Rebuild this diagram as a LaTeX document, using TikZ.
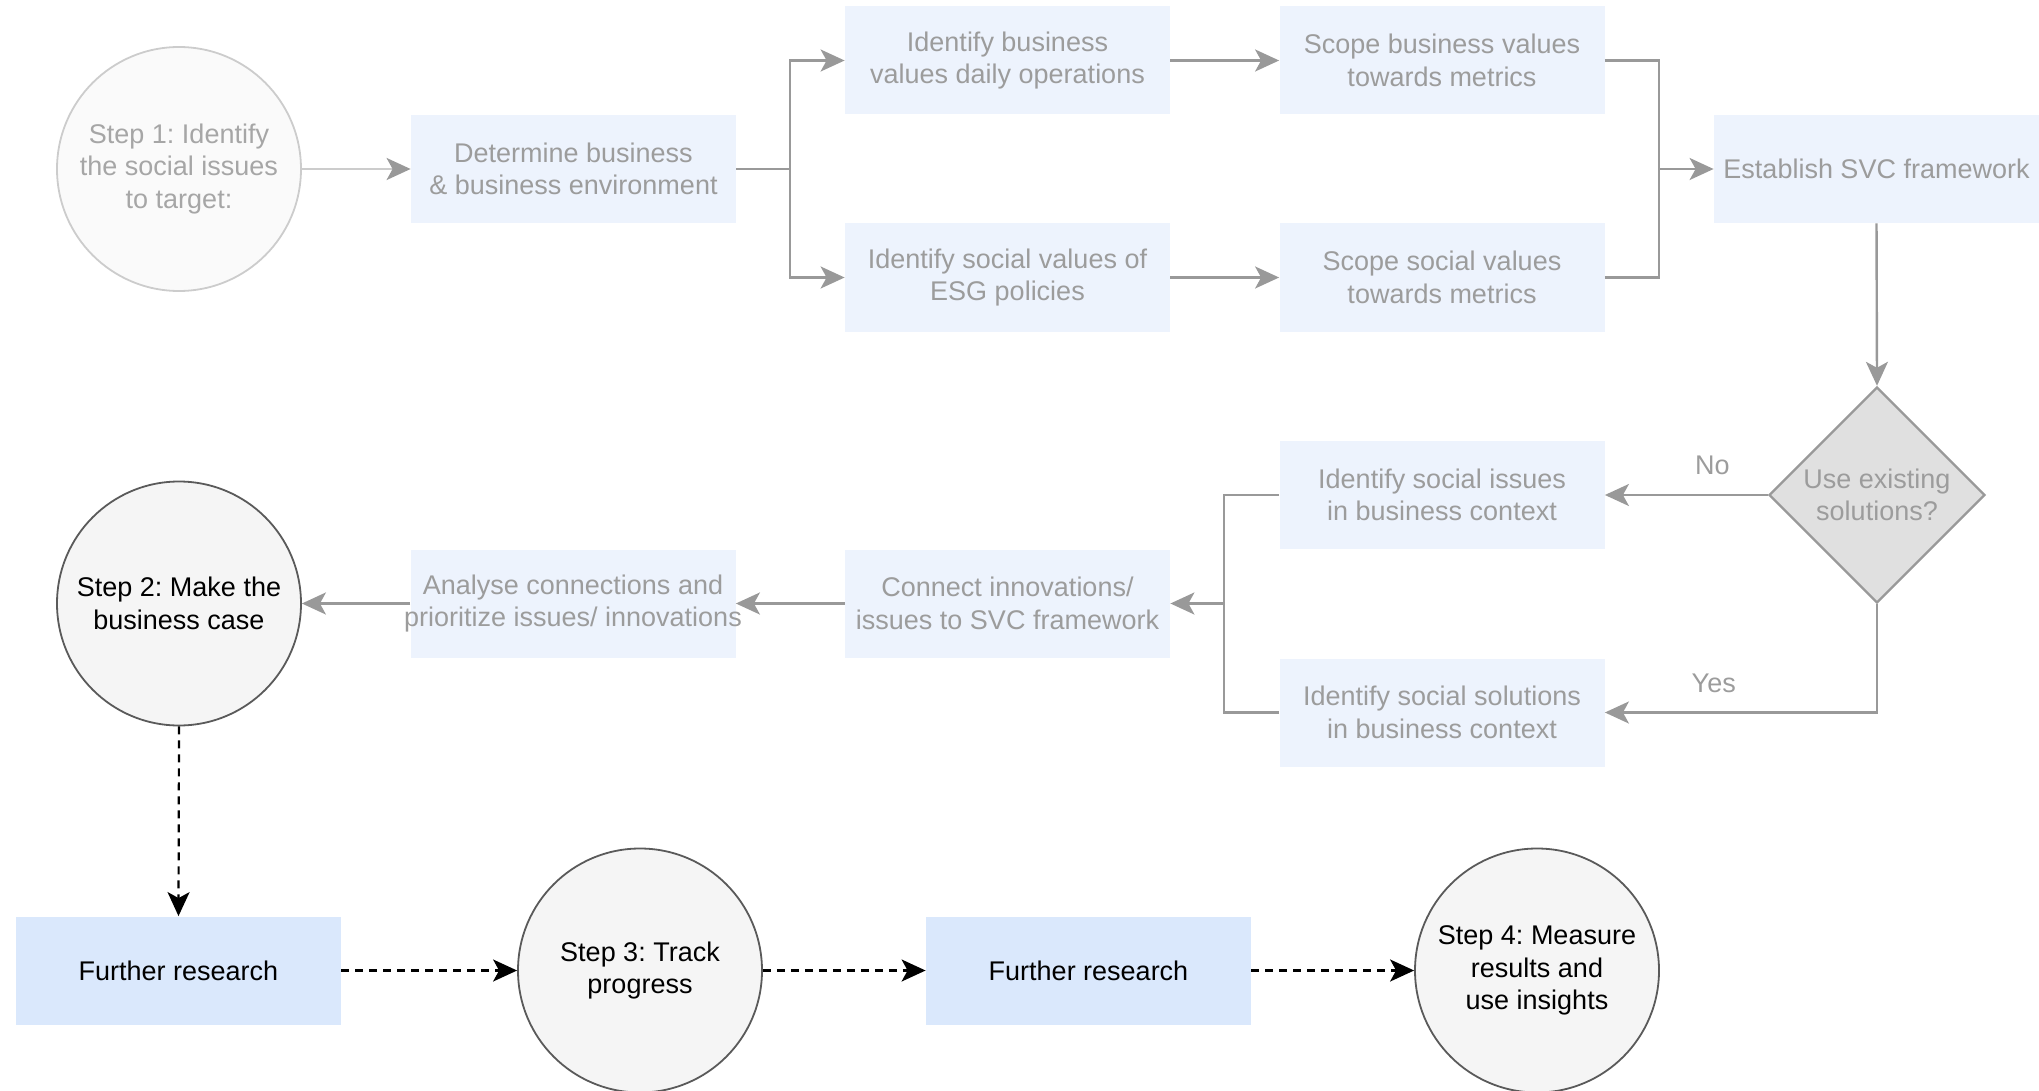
\documentclass[tikz,border=0pt]{standalone}
\usepackage{fontspec}
\setmainfont{Liberation Sans}
\usetikzlibrary{arrows.meta,shapes.geometric,positioning}
\frenchspacing

\definecolor{paleblue}{HTML}{EDF3FD}
\definecolor{boxblue}{HTML}{DAE8FC}
\definecolor{fadetext}{HTML}{9C9C9C}
\definecolor{lighttext}{HTML}{A6A6A6}
\definecolor{lineg}{HTML}{999999}
\definecolor{lightline}{HTML}{CCCCCC}
\definecolor{diafill}{HTML}{E0E0E0}

\begin{document}
\begin{tikzpicture}[x=0.5pt,y=-0.5pt,
  every node/.style={font=\fontsize{13.5}{16.2}\selectfont, align=center},
  fadebox/.style={rectangle, fill=paleblue, text=fadetext, minimum width=162.5pt, minimum height=54pt, inner sep=0pt},
  resbox/.style={rectangle, fill=boxblue, text=black, minimum width=162.5pt, minimum height=54pt, inner sep=0pt},
  stepcircle/.style={circle, minimum size=122pt, inner sep=0pt, line width=0.9pt},
  gconn/.style={draw=lineg, line width=1.2pt, -{Stealth[length=12pt,width=11pt,inset=3pt]}},
  gline/.style={draw=lineg, line width=1.2pt},
  dconn/.style={draw=black, line width=1.1pt, dash pattern=on 4pt off 3pt, -{Stealth[length=12pt,width=11pt,inset=3pt]}},
  lbl/.style={text=fadetext}
]
\useasboundingbox (0,0) rectangle (2039,1091);

% step circles
\node[stepcircle, draw=lightline, fill={rgb,255:red,250;green,250;blue,250}, text=lighttext] (s1) at (179,169) {Step 1: Identify\\the social issues\\to target:};
\node[stepcircle, draw={rgb,255:red,90;green,90;blue,90}, fill={rgb,255:red,245;green,245;blue,245}, text=black] (s2) at (179,603.5) {Step 2: Make the\\business case};
\node[stepcircle, draw={rgb,255:red,90;green,90;blue,90}, fill={rgb,255:red,245;green,245;blue,245}, text=black] (s3) at (640,970.5) {Step 3: Track\\progress};
\node[stepcircle, draw={rgb,255:red,90;green,90;blue,90}, fill={rgb,255:red,245;green,245;blue,245}, text=black] (s4) at (1537,970.5) {Step 4: Measure\\results and\\use insights};

% faded process boxes
\node[fadebox] (det) at (573.5,169) {Determine business\\\& business environment};
\node[fadebox] (ibv) at (1007.5,60.5) {Identify business\\values daily operations};
\node[fadebox] (sbv) at (1442,60.5) {Scope business values\\towards metrics};
\node[fadebox] (isv) at (1007.5,277.5) {Identify social values of\\ESG policies};
\node[fadebox] (ssv) at (1442,277.5) {Scope social values\\towards metrics};
\node[fadebox] (svc) at (1876.5,169) {Establish SVC framework};
\node[diamond, fill=diafill, draw=lineg, line width=1.2pt, text=fadetext, minimum width=108pt, minimum height=108pt, inner sep=0pt] (dia) at (1877,495) {Use existing\\solutions?};
\node[fadebox] (isi) at (1442,495) {Identify social issues\\in business context};
\node[fadebox] (iss) at (1442,712.5) {Identify social solutions\\in business context};
\node[fadebox] (con) at (1007.5,603.5) {Connect innovations/\\issues to SVC framework};
% the second line runs past the box on both sides
\node[fadebox] (ana) at (573,603.5) {\makebox[150pt]{Analyse connections and}\\\makebox[150pt]{prioritize issues/ innovations}};

% research boxes
\node[resbox] (fr1) at (178.5,970.5) {Further research};
\node[resbox] (fr2) at (1088.5,970.5) {Further research};

% junction points
\coordinate (j1) at (790,169);
\coordinate (j2) at (1659,169);
\coordinate (j3) at (1224,603.5);

% upper flow
\draw[draw=lightline, line width=1.2pt, -{Stealth[length=12pt,width=11pt,inset=3pt,color=lineg]}] (s1.east) -- (det.west);
\draw[gline] (det.east) -- (j1);
\draw[gconn] (j1) |- (ibv.west);
\draw[gconn] (j1) |- (isv.west);
\draw[gconn] (ibv.east) -- (sbv.west);
\draw[gconn] (isv.east) -- (ssv.west);
\draw[gline] (sbv.east) -| (j2);
\draw[gline] (ssv.east) -| (j2);
\draw[gconn] (j2) -- (svc.west);
\draw[gconn] (svc.south) -- (dia.north);

% decision branches
\draw[gconn] (dia.west) -- node[lbl, above=6pt, pos=0.34] (no) {No} (isi.east);
\draw[gconn] (dia.south) |- node[lbl, above=6pt, pos=0.80] (yes) {Yes} (iss.east);
\draw[gline] (isi.west) -| (j3);
\draw[gline] (iss.west) -| (j3);
\draw[gconn] (j3) -- (con.east);
\draw[gconn] (con.west) -- (ana.east);
\draw[gconn] (ana.west) -- (s2.east);

% research steps
\draw[dconn] (s2.south) -- (fr1.north);
\draw[dconn] (fr1.east) -- (s3.west);
\draw[dconn] (s3.east) -- (fr2.west);
\draw[dconn] (fr2.east) -- (s4.west);
\end{tikzpicture}
\end{document}
